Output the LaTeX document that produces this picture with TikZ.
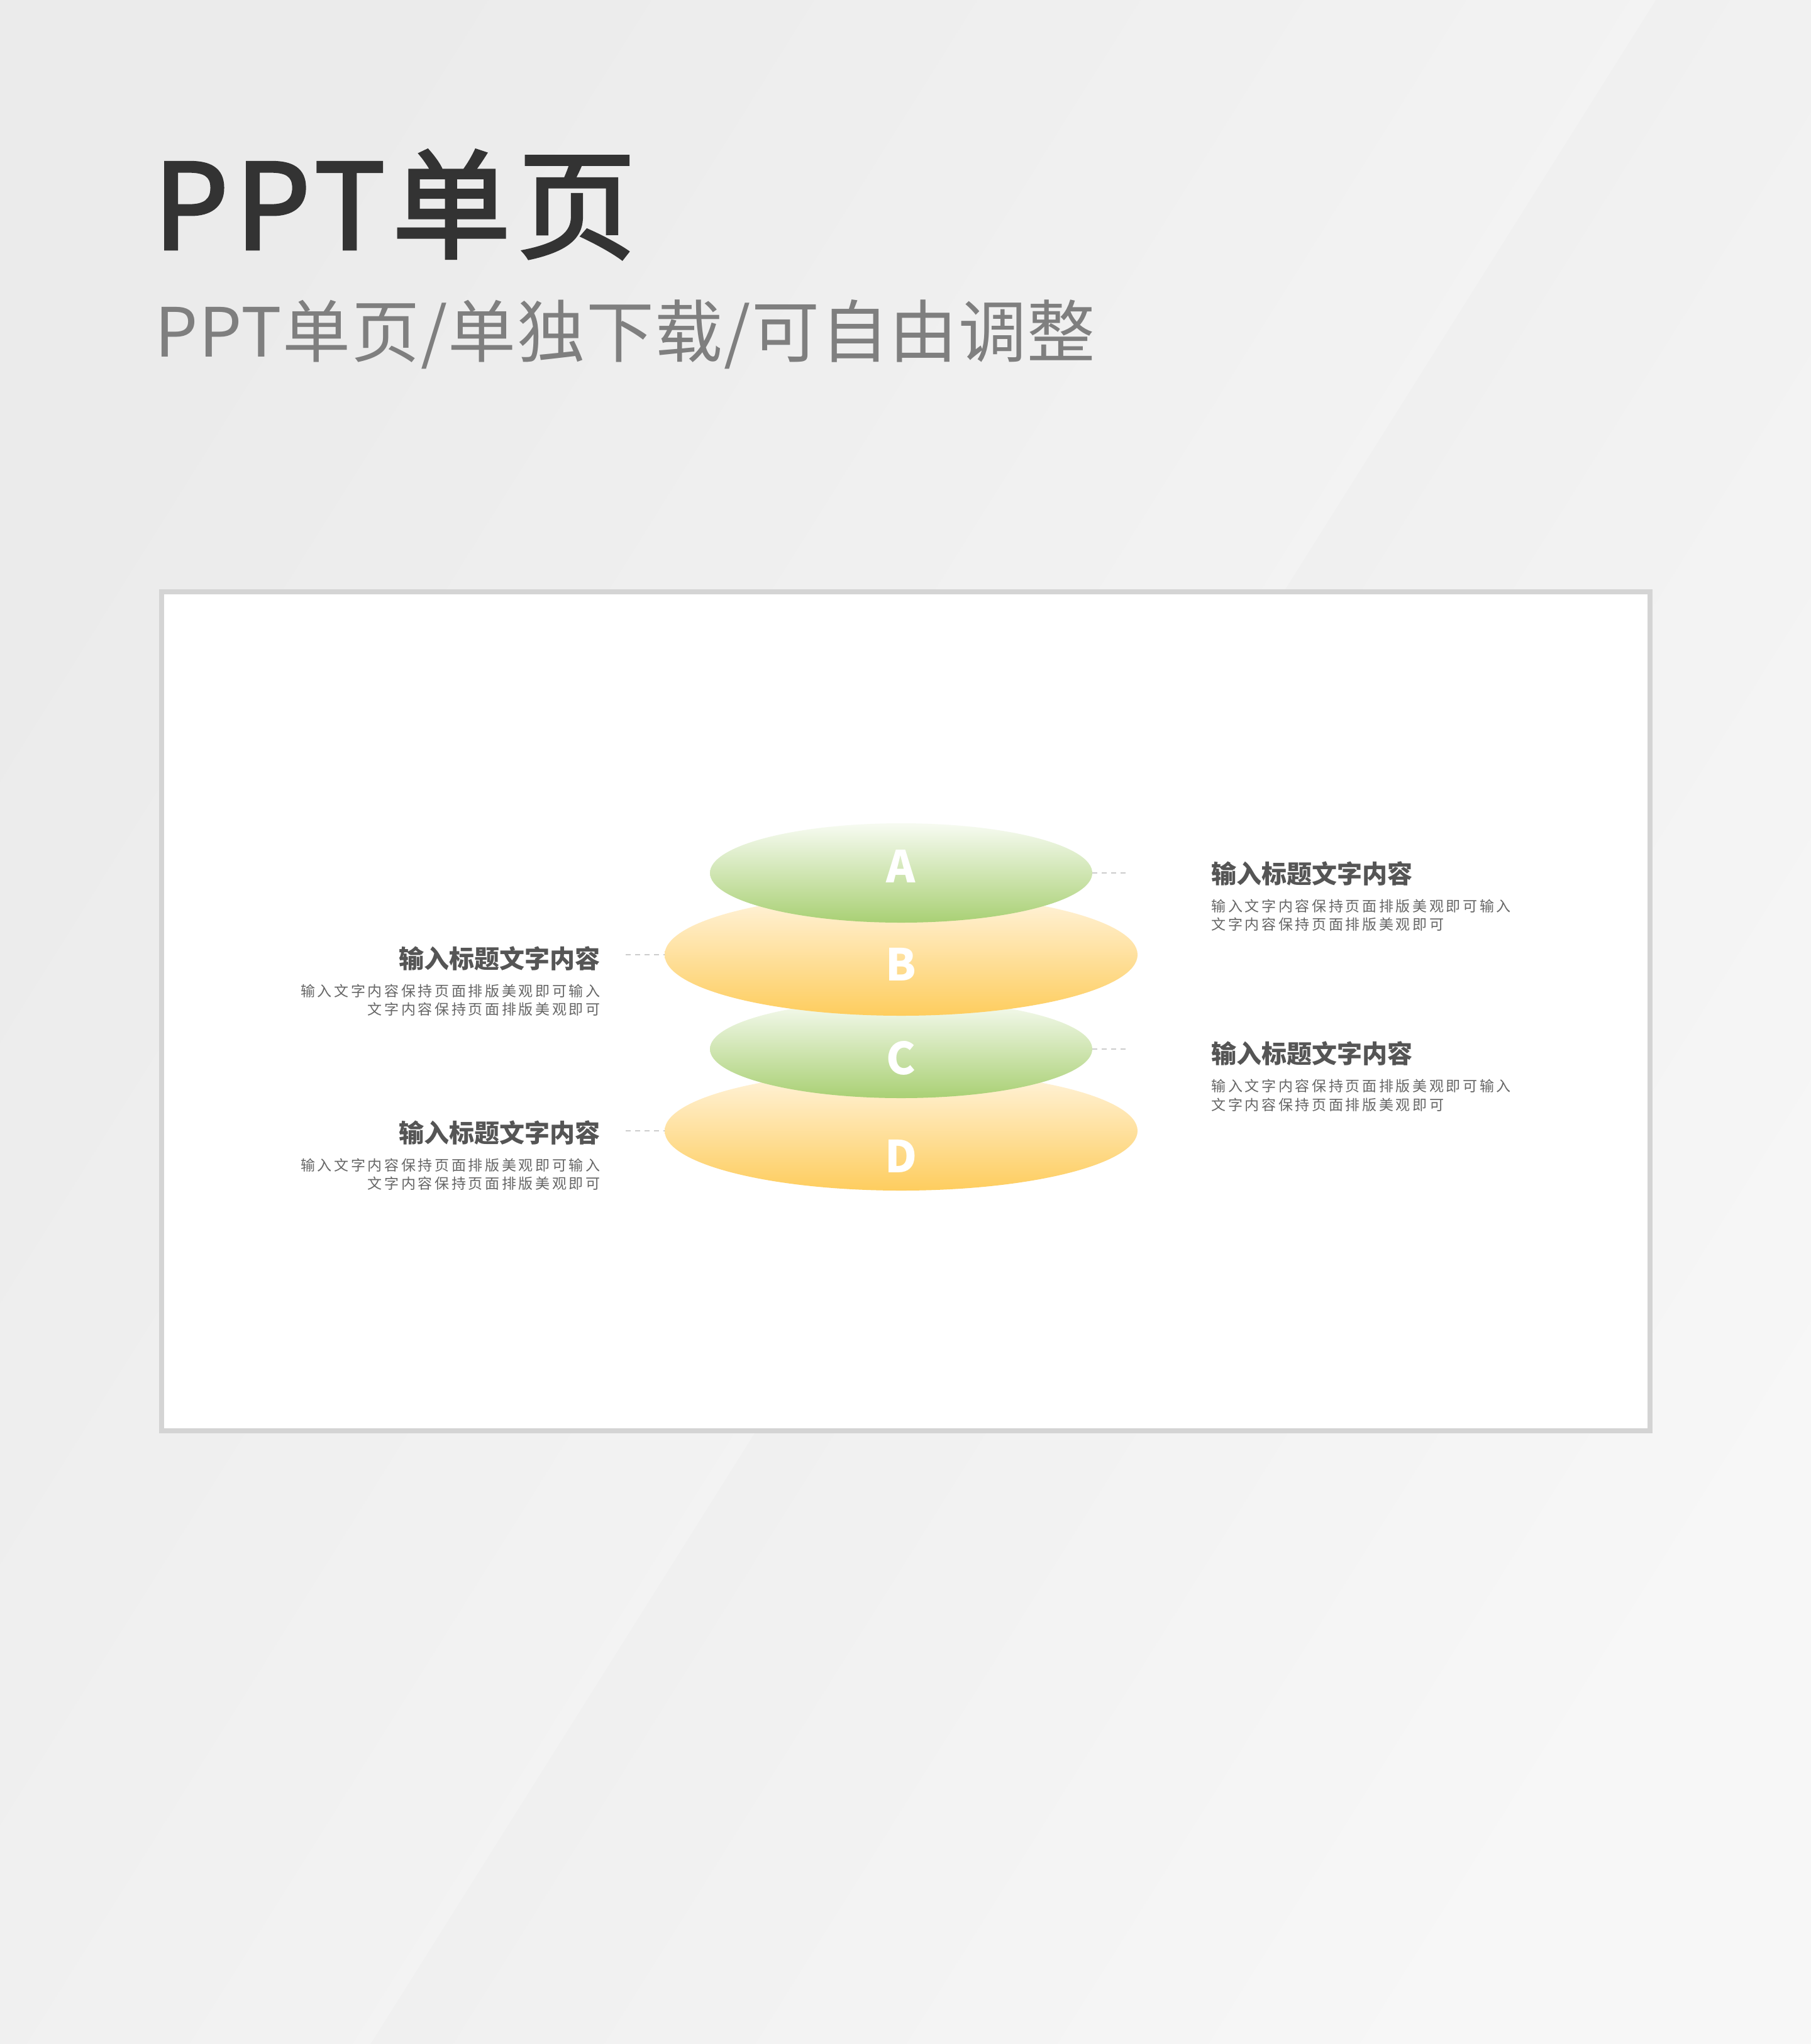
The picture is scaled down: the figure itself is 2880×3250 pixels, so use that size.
\documentclass[tikz,border=0pt]{standalone}
\usepackage{fontspec}
\setmainfont{Noto Sans CJK SC}
\newfontfamily\cjk{Noto Sans CJK SC}
\newfontfamily\cjkbody{Noto Sans CJK SC}[LetterSpace=16]
\newfontfamily\cjktitle{Noto Sans CJK SC}[LetterSpace=6,FakeBold=2.5]
\newfontfamily\cjksub{Noto Sans CJK SC}[LetterSpace=1.5]
\usetikzlibrary{shapes.geometric}
\definecolor{bgfarL}{HTML}{EBEBEB}
\definecolor{bgnearL}{HTML}{F8F8F8}
\definecolor{bgfarR}{HTML}{F7F7F7}
\definecolor{bgnearR}{HTML}{EAEAEA}
\definecolor{panelline}{HTML}{D4D4D4}
\definecolor{titlegray}{HTML}{333333}
\definecolor{subgray}{HTML}{7F7F7F}
\definecolor{headgray}{HTML}{555555}
\definecolor{bodygray}{HTML}{666666}
\definecolor{dashgray}{HTML}{CCCCCC}
\definecolor{gtop}{HTML}{F7FBF2}
\definecolor{gmid}{HTML}{CDE6B6}
\definecolor{gbot}{HTML}{A9D074}
\definecolor{otop}{HTML}{FFF4DE}
\definecolor{omid}{HTML}{FDE2A6}
\definecolor{obot}{HTML}{FECD5E}
\tikzset{
  disc/.style={ellipse, inner sep=0pt, draw=none},
  greendisc/.style={disc, top color=gtop, middle color=gmid, bottom color=gbot},
  orangedisc/.style={disc, top color=otop, middle color=omid, bottom color=obot},
  letter/.style={anchor=base, inner sep=0pt, text=white, font={\cjk\bfseries\fontsize{35pt}{40pt}\selectfont}},
  dashline/.style={draw=dashgray, line width=1pt, dash pattern=on 4pt off 3.5pt},
  headR/.style={anchor=base west, inner sep=0pt, text=headgray, font={\cjk\bfseries\fontsize{20pt}{24pt}\selectfont}},
  headL/.style={headR, anchor=base east},
  bodyR/.style={anchor=base west, inner sep=0pt, text=bodygray, font={\cjkbody\fontsize{11.5pt}{14pt}\selectfont}},
  bodyL/.style={bodyR, anchor=base east}
}
\begin{document}
\begin{tikzpicture}[x=0.5pt,y=-0.5pt]
\useasboundingbox (0,0) rectangle (2880,3250);
% background facets
\shade[top color=bgfarL, bottom color=bgnearL, shading angle=58] (0,0) -- (2633,0) -- (589,3250) -- (0,3250) -- cycle;
\shade[top color=bgfarR, bottom color=bgnearR, shading angle=-122] (2633,0) -- (2880,0) -- (2880,3250) -- (589,3250) -- cycle;
% panel
\draw[draw=panelline, line width=4pt, fill=white] (257,941) rectangle (2624,2275);
% titles
\node[anchor=base west, inner sep=0pt, text=titlegray, font={\cjktitle\fontsize{94pt}{100pt}\selectfont}] (title) at (244,396) {PPT单页};
\node[anchor=base west, inner sep=0pt, text=subgray, font={\cjksub\fontsize{54pt}{60pt}\selectfont}] (subtitle) at (246,567) {PPT单页/单独下载/可自由调整};
% discs (bottom first)
\node[orangedisc, minimum width=376pt, minimum height=95pt] (D) at (1433,1798) {};
\node[greendisc, minimum width=304pt, minimum height=78pt] (C) at (1433,1668) {};
\node[orangedisc, minimum width=376pt, minimum height=97pt] (B) at (1433,1518) {};
\node[greendisc, minimum width=304pt, minimum height=79pt] (A) at (1433,1388) {};
\node[letter] (lA) at (1433,1403) {A};
\node[letter] (lB) at (1433,1559) {B};
\node[letter] (lC) at (1433,1708) {C};
\node[letter] (lD) at (1433,1864) {D};
% connectors
\coordinate (dA) at (1797,1388);
\coordinate (dB) at (995,1518);
\coordinate (dC) at (1797,1668);
\coordinate (dD) at (995,1798);
\draw[dashline] (A.east) -- (dA);
\draw[dashline] (dB) -- (B.west);
\draw[dashline] (C.east) -- (dC);
\draw[dashline] (dD) -- (D.west);
% right texts
\node[headR] (tA) at (1926,1404) {输入标题文字内容};
\node[bodyR] (bA1) at (1926,1449) {输入文字内容保持页面排版美观即可输入};
\node[bodyR] (bA2) at (1926,1478) {文字内容保持页面排版美观即可};
\node[headR] (tC) at (1926,1690) {输入标题文字内容};
\node[bodyR] (bC1) at (1926,1735) {输入文字内容保持页面排版美观即可输入};
\node[bodyR] (bC2) at (1926,1765) {文字内容保持页面排版美观即可};
% left texts
\node[headL] (tB) at (955,1539) {输入标题文字内容};
\node[bodyL] (bB1) at (955,1584) {输入文字内容保持页面排版美观即可输入};
\node[bodyL] (bB2) at (955,1613) {文字内容保持页面排版美观即可};
\node[headL] (tD) at (955,1816) {输入标题文字内容};
\node[bodyL] (bD1) at (955,1861) {输入文字内容保持页面排版美观即可输入};
\node[bodyL] (bD2) at (955,1890) {文字内容保持页面排版美观即可};
\end{tikzpicture}
\end{document}
